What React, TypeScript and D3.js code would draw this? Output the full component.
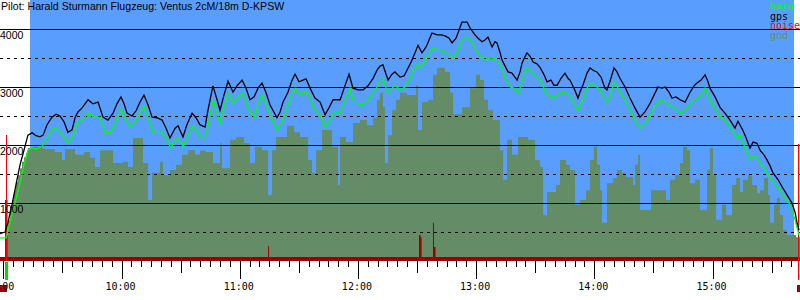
import React from 'react';
import * as d3 from 'd3';

const title = 'Pilot: Harald Sturmann Flugzeug: Ventus 2cM/18m D-KPSW';

const legend = [
  { name: 'baro', color: '#00ff00' },
  { name: 'gps', color: '#000000' },
  { name: 'noise', color: '#ff0000' },
  { name: 'gnd', color: '#6a8a6a' },
];

const solidLevels = [1000, 2000, 3000, 4000];
const dashedLevels = [500, 1500, 2500, 3500];
const hourLabels = ['9:00', '10:00', '11:00', '12:00', '13:00', '14:00', '15:00'];

// time in minutes after 09:00, altitude in metres
const timeStart = -1.68;
const timeEnd = 404.4;

const gps: [number, number][] = [
  [-1.7, 470], [0.9, 500], [2.4, 670], [4.4, 970], [6.4, 1310], [8.5, 1660], [10.5, 1910], [12.5, 2170],
  [14.6, 2210], [16.6, 2160], [18.6, 2140], [20.2, 2170], [22.2, 2350], [24.7, 2480], [26.8, 2530], [28.8, 2500],
  [30.8, 2400], [32.8, 2220], [34.9, 2260], [36.4, 2470], [37.9, 2570], [40.0, 2640], [43.0, 2780], [45.5, 2710],
  [48.1, 2740], [50.6, 2480], [53.1, 2430], [55.7, 2550], [57.7, 2710], [59.7, 2830], [61.3, 2710], [62.8, 2550],
  [65.3, 2500], [67.4, 2590], [69.4, 2740], [71.4, 2860], [73.5, 2690], [75.5, 2480], [78.0, 2470], [80.6, 2430],
  [82.6, 2290], [84.6, 2120], [87.2, 2290], [88.7, 2330], [91.2, 2140], [93.2, 2350], [95.8, 2550], [97.8, 2470],
  [99.8, 2350], [102.4, 2310], [103.9, 2600], [106.4, 3020], [108.5, 2780], [110.0, 2600], [112.0, 2860], [114.1, 3100],
  [116.6, 2910], [118.6, 3020], [121.2, 3120], [123.2, 2980], [125.2, 2780], [127.3, 2830], [129.3, 2980], [131.3, 3070],
  [133.3, 2910], [135.4, 2690], [138.9, 2470], [140.5, 2570], [142.0, 2740], [144.5, 2910], [146.6, 3120], [148.1, 3220],
  [150.1, 3090], [152.1, 3120], [153.7, 3140], [155.7, 2980], [158.2, 2810], [160.8, 2740], [163.3, 2520], [165.3, 2640],
  [167.4, 2780], [169.4, 2780], [171.0, 2780], [173.0, 2980], [175.5, 3220], [177.5, 2980], [180.1, 2950], [182.6, 2950],
  [185.1, 3020], [187.7, 3150], [189.7, 3290], [191.2, 3360], [192.7, 3380], [194.3, 3220], [195.3, 3120], [197.3, 3220],
  [198.8, 3260], [201.4, 3170], [203.4, 3190], [204.9, 3290], [207.0, 3430], [209.0, 3590], [210.5, 3720], [212.5, 3590],
  [214.6, 3690], [216.1, 3810], [217.6, 3930], [220.2, 3900], [222.2, 3900], [224.2, 3880], [226.3, 3840], [227.8, 3760],
  [229.8, 3840], [231.3, 3980], [232.8, 4120], [234.4, 4120], [235.4, 4120], [236.9, 4020], [239.4, 3900], [241.0, 3840],
  [243.0, 3780], [244.5, 3810], [246.0, 3860], [248.1, 3690], [249.6, 3780], [250.6, 3760], [252.1, 3600], [253.1, 3470],
  [254.7, 3360], [256.2, 3260], [258.2, 3240], [260.8, 3120], [262.3, 3260], [263.3, 3410], [264.8, 3520], [265.8, 3590],
  [267.4, 3530], [268.9, 3430], [270.9, 3400], [272.4, 3340], [274.5, 3210], [276.0, 3090], [278.0, 3120], [279.5, 3030],
  [281.1, 3030], [283.1, 3150], [285.1, 3240], [286.6, 3150], [287.6, 3120], [289.7, 2980], [291.7, 2810], [292.7, 2910],
  [294.2, 3030], [296.3, 3240], [297.8, 3330], [299.8, 3280], [301.3, 3260], [303.4, 3170], [305.4, 2980], [306.4, 2950],
  [307.9, 3090], [310.0, 3330], [311.5, 3260], [313.0, 3150], [315.6, 3000], [318.1, 2810], [320.6, 2640], [323.2, 2480],
  [325.7, 2570], [328.3, 2720], [330.3, 2860], [332.3, 3000], [334.4, 2980], [335.9, 3000], [337.9, 2910], [339.4, 2810],
  [341.5, 2830], [343.5, 2780], [346.1, 2740], [348.6, 2910], [350.6, 3020], [352.1, 3070], [354.2, 3120], [356.2, 3210],
  [357.7, 3090], [358.7, 2980], [361.3, 2830], [363.8, 2650], [366.3, 2550], [368.9, 2430], [371.4, 2290], [372.9, 2410],
  [375.0, 2280], [376.5, 2170], [379.0, 1950], [380.6, 2050], [382.6, 2030], [384.1, 1910], [386.1, 1830], [387.7, 1740],
  [389.2, 1640], [390.7, 1520], [393.3, 1400], [395.3, 1280], [397.8, 1140], [400.3, 1000], [401.9, 840], [402.9, 660],
  [403.9, 530],
];

const baro: [number, number][] = [
  [-1.7, 400], [1.4, 400], [3.4, 660], [5.9, 1000], [8.5, 1340], [10.5, 1660], [12.5, 1910], [14.6, 1950],
  [16.6, 1930], [19.6, 1970], [22.2, 2120], [25.2, 2290], [27.8, 2260], [30.3, 2160], [32.8, 2030], [35.4, 2170],
  [37.4, 2380], [40.0, 2430], [43.0, 2550], [46.0, 2480], [49.1, 2480], [51.6, 2220], [54.2, 2210], [56.7, 2360],
  [59.7, 2620], [61.8, 2470], [64.3, 2310], [66.9, 2400], [69.4, 2570], [71.4, 2670], [73.5, 2470], [76.0, 2220],
  [78.5, 2240], [80.6, 2220], [83.1, 2090], [85.1, 1950], [87.2, 2090], [88.7, 2120], [91.2, 1970], [93.8, 2170],
  [95.8, 2340], [97.8, 2260], [99.8, 2140], [102.4, 2120], [104.9, 2480], [106.4, 2780], [108.5, 2550], [110.0, 2380],
  [112.0, 2650], [114.1, 2900], [116.6, 2720], [118.6, 2810], [121.2, 2900], [123.2, 2740], [125.2, 2570], [127.8, 2470],
  [129.3, 2720], [131.3, 2860], [133.3, 2690], [135.9, 2470], [138.9, 2260], [141.5, 2400], [144.5, 2690], [146.6, 2900],
  [148.1, 2980], [150.6, 2860], [152.6, 2910], [154.2, 2900], [156.2, 2760], [158.2, 2600], [160.8, 2520], [163.3, 2310],
  [165.3, 2410], [167.4, 2550], [170.9, 2550], [173.4, 2760], [176.0, 2980], [178.0, 2720], [180.1, 2710], [182.6, 2690],
  [185.1, 2780], [187.7, 2900], [189.7, 3000], [191.2, 3120], [192.7, 3150], [194.3, 2980], [195.3, 2900], [197.3, 2980],
  [198.8, 3030], [201.4, 2950], [203.9, 3000], [206.4, 3150], [208.0, 3290], [210.0, 3380], [211.5, 3330], [213.6, 3430],
  [215.6, 3550], [217.6, 3670], [220.2, 3640], [222.2, 3640], [224.2, 3600], [226.8, 3550], [228.3, 3500], [230.3, 3600],
  [232.3, 3780], [234.4, 3860], [236.4, 3840], [238.4, 3740], [240.5, 3600], [242.5, 3520], [244.5, 3470], [246.5, 3500],
  [248.6, 3500], [250.6, 3470], [252.1, 3380], [253.7, 3260], [255.2, 3120], [257.2, 3000], [259.2, 2980], [261.3, 2900],
  [262.8, 3030], [264.3, 3240], [265.8, 3330], [267.9, 3260], [269.4, 3210], [270.9, 3170], [273.0, 3090], [274.5, 2980],
  [276.0, 2860], [277.5, 2840], [279.0, 2810], [281.1, 2860], [282.6, 2900], [284.1, 2910], [286.1, 2880], [287.6, 2840],
  [289.7, 2720], [291.7, 2600], [293.2, 2720], [294.8, 2840], [296.3, 2980], [297.8, 3070], [299.8, 3030], [301.3, 3000],
  [302.9, 2950], [304.9, 2810], [306.4, 2740], [308.0, 2840], [310.0, 3090], [311.5, 3020], [313.0, 2910], [315.6, 2780],
  [318.1, 2600], [320.6, 2430], [323.2, 2290], [325.7, 2380], [328.3, 2520], [330.3, 2650], [333.3, 2780], [335.9, 2740],
  [338.4, 2670], [340.9, 2640], [343.5, 2550], [346.0, 2600], [348.6, 2710], [350.6, 2780], [352.6, 2810], [354.7, 2880],
  [356.2, 2980], [357.7, 2860], [359.7, 2710], [362.3, 2570], [364.8, 2470], [367.4, 2380], [369.9, 2260], [372.4, 2120],
  [374.0, 2170], [376.5, 1950], [379.0, 1740], [380.6, 1810], [382.6, 1790], [384.1, 1690], [386.1, 1600], [387.7, 1520],
  [389.2, 1430], [391.7, 1330], [394.2, 1220], [396.8, 1090], [398.8, 1000], [400.3, 880], [401.9, 710], [402.9, 570],
  [403.9, 450],
];

const gnd: [number, number][] = [
  [-1.7, 0], [1.4, 450], [2.4, 710], [3.4, 880], [4.4, 1050], [5.4, 1220], [6.4, 1360], [7.5, 1480],
  [8.5, 1600], [9.5, 1710], [10.5, 1790], [11.5, 1860], [12.5, 1950], [14.6, 1970], [20.2, 1930], [26.2, 1880],
  [29.8, 1740], [31.3, 1930], [36.4, 1830], [41.0, 1880], [44.0, 1780], [46.5, 1620], [49.1, 1910], [55.7, 1690],
  [60.8, 1710], [63.3, 1620], [65.8, 2120], [70.9, 1690], [73.5, 1050], [75.5, 1520], [79.5, 1710], [81.1, 1480],
  [84.6, 1570], [87.7, 1660], [90.7, 1830], [93.8, 1910], [97.3, 1830], [99.8, 1900], [102.9, 1880], [106.4, 1690],
  [110.0, 2030], [111.0, 1600], [115.1, 2090], [118.1, 2140], [122.2, 2030], [125.2, 1690], [127.8, 1970], [131.3, 1910],
  [134.4, 1140], [136.4, 1910], [138.4, 2140], [144.0, 2330], [147.6, 2220], [150.6, 2140], [154.7, 1740], [156.7, 1520],
  [158.7, 1910], [161.8, 2260], [166.8, 1970], [169.9, 1310], [170.9, 2140], [174.0, 2050], [177.5, 2380], [181.1, 2430],
  [184.6, 2340], [187.7, 2470], [189.7, 2780], [191.2, 2900], [192.7, 2650], [193.7, 1690], [195.3, 2170], [197.3, 2600],
  [199.3, 2780], [201.4, 2900], [204.9, 2860], [209.5, 3030], [210.5, 2260], [212.5, 2740], [215.6, 2780], [218.1, 3210],
  [220.2, 3330], [224.2, 3260], [226.8, 2900], [228.3, 2530], [232.8, 2650], [236.9, 2980], [239.9, 3210], [242.0, 3120],
  [244.0, 2780], [246.0, 2600], [248.6, 2430], [252.1, 1910], [253.7, 1400], [255.7, 2090], [258.2, 1830], [261.3, 2140],
  [266.4, 2090], [269.9, 1740], [272.4, 1620], [274.0, 790], [276.0, 1190], [280.6, 1310], [282.6, 1740], [285.6, 1660],
  [287.6, 1570], [290.2, 970], [292.7, 1050], [295.8, 1220], [297.8, 1740], [299.8, 1970], [301.4, 1660], [302.9, 1220],
  [303.9, 660], [306.4, 1340], [309.5, 1430], [311.5, 1570], [314.1, 1520], [316.1, 1450], [319.7, 1310], [320.7, 1660],
  [322.2, 1830], [323.2, 880], [328.8, 1220], [333.3, 1220], [336.4, 1050], [338.4, 1400], [341.0, 1480], [343.5, 1690],
  [345.0, 1970], [347.1, 1910], [348.6, 1340], [351.1, 1400], [353.6, 880], [357.2, 1570], [358.7, 1950], [360.2, 1480],
  [361.8, 710], [364.8, 970], [366.9, 790], [369.9, 1310], [372.0, 1430], [374.0, 1190], [375.5, 1400], [378.0, 1480],
  [380.1, 1310], [382.6, 1170], [384.1, 1220], [386.1, 1430], [388.2, 1140], [389.2, 660], [391.2, 970], [392.7, 1090],
  [394.2, 790], [395.8, 530], [397.8, 450], [402.4, 410], [404.4, 410],
];

const noise: [number, number][] = [
  [-1.7, 70], [0.9, 1050], [2.1, 70], [134.4, 260], [134.9, 70], [211.0, 450], [211.8, 410], [212.3, 70],
  [218.1, 660], [218.6, 240], [219.4, 70], [404.4, 70],
];

const takeoff = { t: 1.4, alt: 2170 };
const landing = { t: 403.4, alt: 2020 };

export default function App() {
  const W = 800;
  const H = 300;
  const x = d3.scaleLinear().domain([timeStart, timeEnd]).range([0, W]);
  const y = d3.scaleLinear().domain([0, 4500]).range([261, 0]);

  const area = d3
    .area<[number, number]>()
    .x((d) => x(d[0]))
    .y0(y(0))
    .y1((d) => y(d[1]))
    .curve(d3.curveStepAfter);
  const line = d3
    .line<[number, number]>()
    .x((d) => x(d[0]))
    .y((d) => y(d[1]));

  const ticks: number[] = d3.range(0, timeEnd, 5);
  const px = (v: number) => Math.round(v) + 0.5;

  return (
    <svg
      width={W}
      height={H}
      style={{ position: 'absolute', left: 0, top: 0, background: '#fff' }}
    >
      <rect x={30} y={0} width={764} height={y(0)} fill="#599eff" />
      <path d={area(gnd) || ''} fill="#648c66" />
      {solidLevels.map((v) => (
        <line key={'s' + v} x1={0} x2={W} y1={px(y(v))} y2={px(y(v))} stroke="#000" strokeWidth={1} shapeRendering="crispEdges" />
      ))}
      {dashedLevels.map((v) => (
        <line key={'d' + v} x1={0} x2={W} y1={px(y(v))} y2={px(y(v))} stroke="#000" strokeWidth={1} strokeDasharray="3,4" shapeRendering="crispEdges" />
      ))}
      <path d={area(noise) || ''} fill="#990000" />
      <line x1={px(x(takeoff.t))} x2={px(x(takeoff.t))} y1={y(takeoff.alt)} y2={y(0)} stroke="#ff0000" strokeWidth={1} shapeRendering="crispEdges" />
      <line x1={px(x(landing.t))} x2={px(x(landing.t))} y1={y(landing.alt)} y2={280} stroke="#ff0000" strokeWidth={1.5} shapeRendering="crispEdges" />
      <path d={line(baro) || ''} fill="none" stroke="#00ff00" strokeWidth={1.3} />
      <path d={line(gps) || ''} fill="none" stroke="#000" strokeWidth={1.3} />
      {ticks.map((t) => {
        const len = t % 60 === 0 ? 18 : t % 30 === 0 ? 12 : 6;
        return (
          <line key={'t' + t} x1={px(x(t))} x2={px(x(t))} y1={y(0)} y2={y(0) + len} stroke="#000" strokeWidth={1} shapeRendering="crispEdges" />
        );
      })}
      <rect x={Math.round(x(takeoff.t)) - 1} y={262} width={3} height={18} fill="#00dd00" />
      <rect x={0} y={285} width={7} height={7} fill="#990000" />
      <rect x={797} y={285} width={3} height={7} fill="#990000" />
      {hourLabels.map((s, i) => (
        <text key={s} x={x(i * 60) - 1} y={290} textAnchor="middle" fontFamily="DejaVu Sans Mono" fontSize={10} fill="#000">
          {s}
        </text>
      ))}
      {solidLevels.map((v) => (
        <text key={'l' + v} x={0} y={y(v) + 10} fontFamily="Liberation Sans" fontSize={10.5} fill="#000">
          {v}
        </text>
      ))}
      <text x={1} y={10} fontFamily="Liberation Sans" fontSize={10.6} fill="#000">
        {title}
      </text>
      {legend.map((l, i) => (
        <text key={l.name} x={770} y={10 + i * 9.6} fontFamily="DejaVu Sans Mono" fontSize={10} fill={l.color}>
          {l.name}
        </text>
      ))}
    </svg>
  );
}
